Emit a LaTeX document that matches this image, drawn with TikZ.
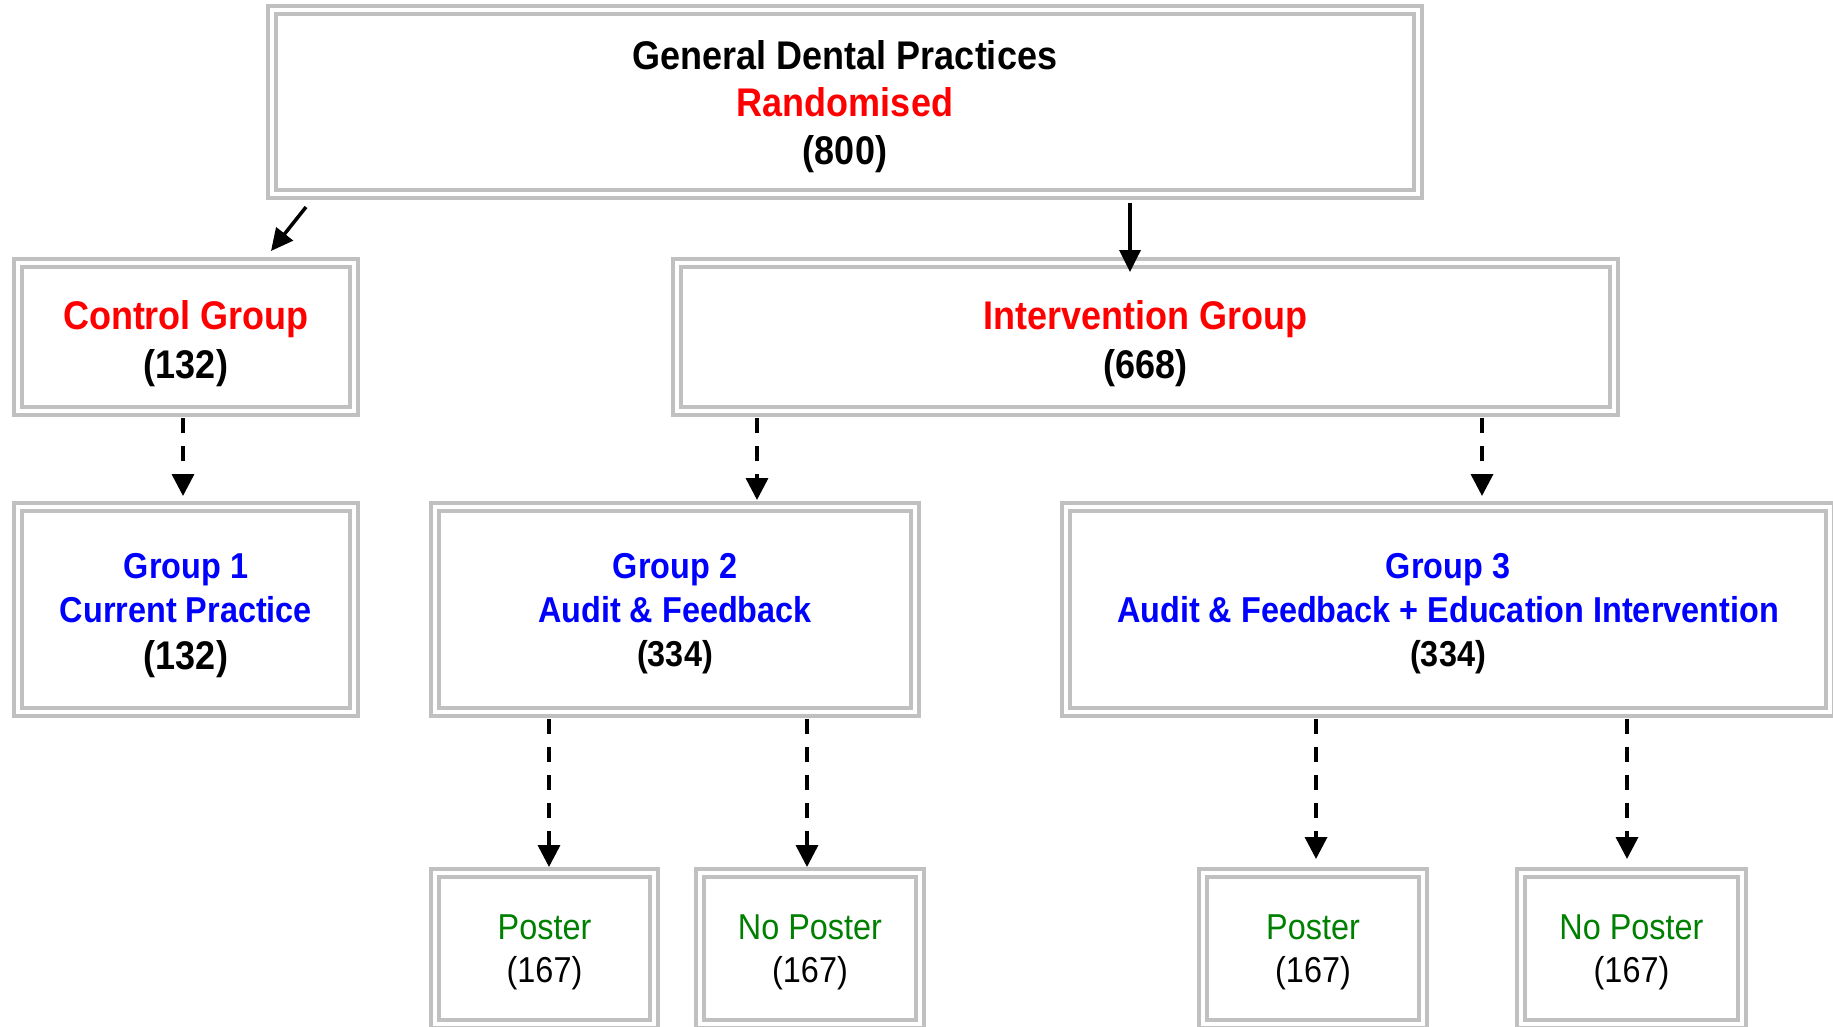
\documentclass[tikz,border=0pt]{standalone}
\usepackage{fontspec}
\setmainfont{Liberation Sans}[FakeStretch=0.9]
\usetikzlibrary{arrows.meta,calc}
\definecolor{boxgray}{HTML}{C0C0C0}
\definecolor{redtxt}{HTML}{FF0000}
\definecolor{bluetxt}{HTML}{0000FF}
\definecolor{greentxt}{HTML}{008000}
\begin{document}
\begin{tikzpicture}[x=1pt,y=-1pt,
  dbox/.style={draw=boxgray, line width=4pt, double=white, double distance=4pt,
    rectangle, inner sep=0pt, outer sep=0pt},
  txt/.style={inner sep=0pt, align=center},
  topfont/.style={font=\fontsize{40pt}{47.5pt}\selectfont\bfseries},
  armfont/.style={font=\fontsize{40pt}{49pt}\selectfont\bfseries},
  grpfont/.style={font=\fontsize{36pt}{44pt}\selectfont\bfseries},
  posfont/.style={font=\fontsize{36pt}{43pt}\selectfont},
  solidarr/.style={line width=3.5pt, -{Triangle[width=21pt,length=22pt]}},
  dasharr/.style={line width=3.5pt, dash pattern=on 15pt off 13pt,
    -{Triangle[width=22pt,length=22pt]}},
]
\useasboundingbox (0,0) rectangle (1833,1026);

% boxes
\node[dbox, minimum width=1146pt, minimum height=184pt] (top) at (845,102) {};
\node[dbox, minimum width=336pt, minimum height=148pt] (ctrl) at (186,337) {};
\node[dbox, minimum width=937pt, minimum height=148pt] (inter) at (1145.5,337) {};
\node[dbox, minimum width=336pt, minimum height=205pt] (g1) at (186,609.5) {};
\node[dbox, minimum width=480pt, minimum height=205pt] (g2) at (675,609.5) {};
\node[dbox, minimum width=764pt, minimum height=205pt] (g3) at (1448,609.5) {};
\node[dbox, minimum width=219pt, minimum height=151pt] (p1) at (544.5,948.5) {};
\node[dbox, minimum width=220pt, minimum height=151pt] (np1) at (810,948.5) {};
\node[dbox, minimum width=220pt, minimum height=151pt] (p2) at (1313,948.5) {};
\node[dbox, minimum width=221pt, minimum height=151pt] (np2) at (1631.5,948.5) {};

% texts
\node[txt, topfont] (topt) at (845,106.5)
  {General Dental Practices\\ \textcolor{redtxt}{Randomised}\\ (800)};
\node[txt, armfont] (ctrlt) at (186,344)
  {\textcolor{redtxt}{Control Group}\\ (132)};
\node[txt, armfont] (intert) at (1145.5,344)
  {\textcolor{redtxt}{Intervention Group}\\ (668)};
\node[txt, grpfont] (g1t) at (186,615.5)
  {\textcolor{bluetxt}{Group 1}\\ \textcolor{bluetxt}{Current Practice}\\[3pt] {\fontsize{40pt}{44pt}\selectfont (132)}};
\node[txt, grpfont] (g2t) at (675,614)
  {\textcolor{bluetxt}{Group 2}\\ \textcolor{bluetxt}{Audit \& Feedback}\\ (334)};
\node[txt, grpfont] (g3t) at (1448,614)
  {\textcolor{bluetxt}{Group 3}\\ \textcolor{bluetxt}{Audit \& Feedback + Education Intervention}\\ (334)};
\node[txt, posfont] (p1t) at (544.5,952)
  {\textcolor{greentxt}{Poster}\\ (167)};
\node[txt, posfont] (np1t) at (810,952)
  {\textcolor{greentxt}{No Poster}\\ (167)};
\node[txt, posfont] (p2t) at (1313,952)
  {\textcolor{greentxt}{Poster}\\ (167)};
\node[txt, posfont] (np2t) at (1631.5,952)
  {\textcolor{greentxt}{No Poster}\\ (167)};

% solid arrows
\coordinate (a1s) at (306,207);
\draw[solidarr] (a1s) -- ([xshift=85pt,yshift=12pt]ctrl.north);
\coordinate (a2s) at (1130,203);
\draw[solidarr] (a2s) -- ($(a2s |- inter.north)+(0,9)$);

% dashed arrows
\draw[dasharr] ($(ctrl.south)+(-3,7)$) -- ($(g1.north)+(-3,-11)$);
\draw[dasharr] ($(inter.south)+(-388.5,7)$) -- ($(g2.north)+(82,-7)$);
\draw[dasharr] ($(inter.south)+(336.5,7)$) -- ($(g3.north)+(34,-11)$);
\draw[dasharr] ($(g2.south)+(-126,7)$) -- ($(p1.north)+(4.5,-6)$);
\draw[dasharr] ($(g2.south)+(132,7)$) -- ($(np1.north)+(-3,-6)$);
\draw[dasharr] ($(g3.south)+(-132,7)$) -- ($(p2.north)+(3,-14)$);
\draw[dasharr] ($(g3.south)+(179,7)$) -- ($(np2.north)+(-4.5,-14)$);
\end{tikzpicture}
\end{document}
